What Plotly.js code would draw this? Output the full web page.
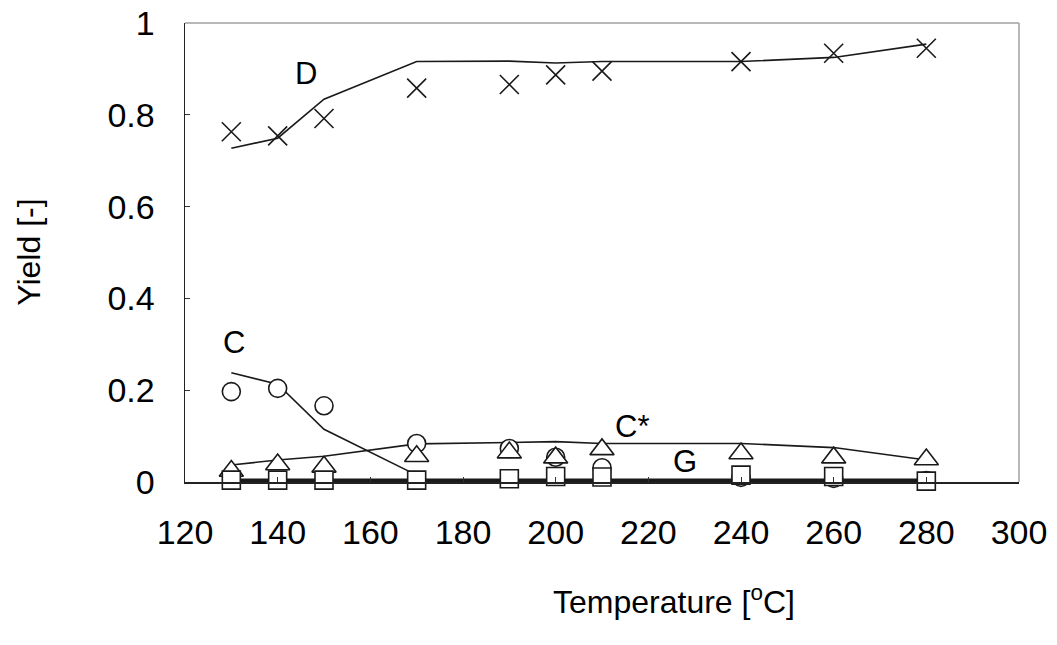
<!DOCTYPE html>
<html>
<head>
<meta charset="utf-8">
<script src="https://cdn.plot.ly/plotly-3.0.1.min.js"></script>
<style>html,body{margin:0;padding:0;background:#fff;}#chart{width:1057px;height:645px;}</style>
</head>
<body>
<div id="chart"></div>
<script>
// Temperatures [°C]
const temps = [130, 140, 150, 170, 190, 200, 210, 240, 260, 280];
// Experimental yields
const expD     = [0.763, 0.754, 0.792, 0.858, 0.866, 0.887, 0.895, 0.916, 0.934, 0.945];
const expC     = [0.197, 0.204, 0.166, 0.084, 0.073, 0.054, 0.031, 0.010, 0.008, 0.003];
const expCstar = [0.024, 0.038, 0.033, 0.056, 0.064, 0.053, 0.071, 0.062, 0.053, 0.049];
const expG     = [0.004, 0.004, 0.004, 0.004, 0.007, 0.012, 0.011, 0.015, 0.012, 0.002];
// Model yields
const modD     = [0.727, 0.749, 0.834, 0.916, 0.917, 0.913, 0.916, 0.916, 0.925, 0.954];
const modCtemps = [130, 140, 150, 170];
const modC     = [0.238, 0.213, 0.115, 0.015];
const modCstar = [0.037, 0.048, 0.056, 0.083, 0.086, 0.088, 0.084, 0.084, 0.075, 0.048];
const modG     = [0.002, 0.002, 0.002, 0.002, 0.002, 0.002, 0.002, 0.002, 0.002, 0.002];
// Curve labels
const labelText = ['D', 'C', 'C*', 'G'];
const labelX    = [146.2, 130.6, 216.5, 227.9];
const labelY    = [0.889, 0.303, 0.120, 0.044];

const FONT = 'Arial, "Liberation Sans", sans-serif';

function lineTrace(x, y, w) {
  return {x: x, y: y, mode: 'lines', type: 'scatter', cliponaxis: false,
          line: {color: '#1a1a1a', width: w}, hoverinfo: 'skip', showlegend: false};
}
function markerTrace(y, sym, size, fill) {
  return {x: temps, y: y, mode: 'markers', type: 'scatter', showlegend: false,
          cliponaxis: false,
          marker: {symbol: sym, size: size, color: fill,
                   line: {color: '#1a1a1a', width: 1.6}}};
}

const data = [
  lineTrace(temps, modG, 5),
  lineTrace(modCtemps, modC, 1.6),
  lineTrace(temps, modCstar, 1.6),
  lineTrace(temps, modD, 1.6),
  markerTrace(expD, 'x-thin-open', 19, '#1a1a1a'),
  markerTrace(expC, 'circle', 18, '#ffffff'),
  markerTrace(expCstar, 'triangle-up', 21, '#ffffff'),
  markerTrace(expG, 'square', 18, '#ffffff')
];

const annotations = labelText.map((t, i) => ({
  x: labelX[i], y: labelY[i], xref: 'x', yref: 'y', text: t, showarrow: false,
  xanchor: 'center', yanchor: 'middle',
  font: {family: FONT, size: 31, color: '#000'}
}));
annotations.push({
  x: 0.586, y: -0.257, xref: 'paper', yref: 'paper', showarrow: false,
  xanchor: 'center', yanchor: 'middle',
  text: 'Temperature [<sup>o</sup>C]', font: {family: FONT, size: 32, color: '#000'}
});
annotations.push({
  x: -0.188, y: 0.5, xref: 'paper', yref: 'paper', showarrow: false, textangle: -90,
  xanchor: 'center', yanchor: 'middle',
  text: 'Yield [-]', font: {family: FONT, size: 32, color: '#000'}
});

const layout = {
  width: 1057, height: 645,
  margin: {l: 185, r: 38, t: 23, b: 163},
  paper_bgcolor: '#ffffff', plot_bgcolor: '#ffffff',
  showlegend: false,
  font: {family: FONT, color: '#000'},
  xaxis: {
    range: [120, 300], dtick: 20, tick0: 120,
    ticks: 'inside', ticklen: 5, tickwidth: 1, tickcolor: '#333',
    showline: true, linecolor: '#222', linewidth: 1.5,
    showgrid: false, zeroline: false,
    tickfont: {family: FONT, size: 34, color: '#000'},
    ticklabelstandoff: 20
  },
  yaxis: {
    range: [0, 1], dtick: 0.2, tick0: 0,
    ticks: 'inside', ticklen: 5, tickwidth: 1, tickcolor: '#333',
    showline: true, linecolor: '#222', linewidth: 1.5,
    showgrid: false, zeroline: false,
    tickfont: {family: FONT, size: 34, color: '#000'},
    ticklabelstandoff: 22
  },
  shapes: [
    {type: 'line', xref: 'paper', yref: 'paper', x0: 0, x1: 1, y0: 1, y1: 1,
     line: {color: '#a0a0a0', width: 1.5}},
    {type: 'line', xref: 'paper', yref: 'paper', x0: 1, x1: 1, y0: 0, y1: 1,
     line: {color: '#a0a0a0', width: 1.5}}
  ],
  annotations: annotations
};

Plotly.newPlot('chart', data, layout, {displayModeBar: false, staticPlot: true});
</script>
</body>
</html>
